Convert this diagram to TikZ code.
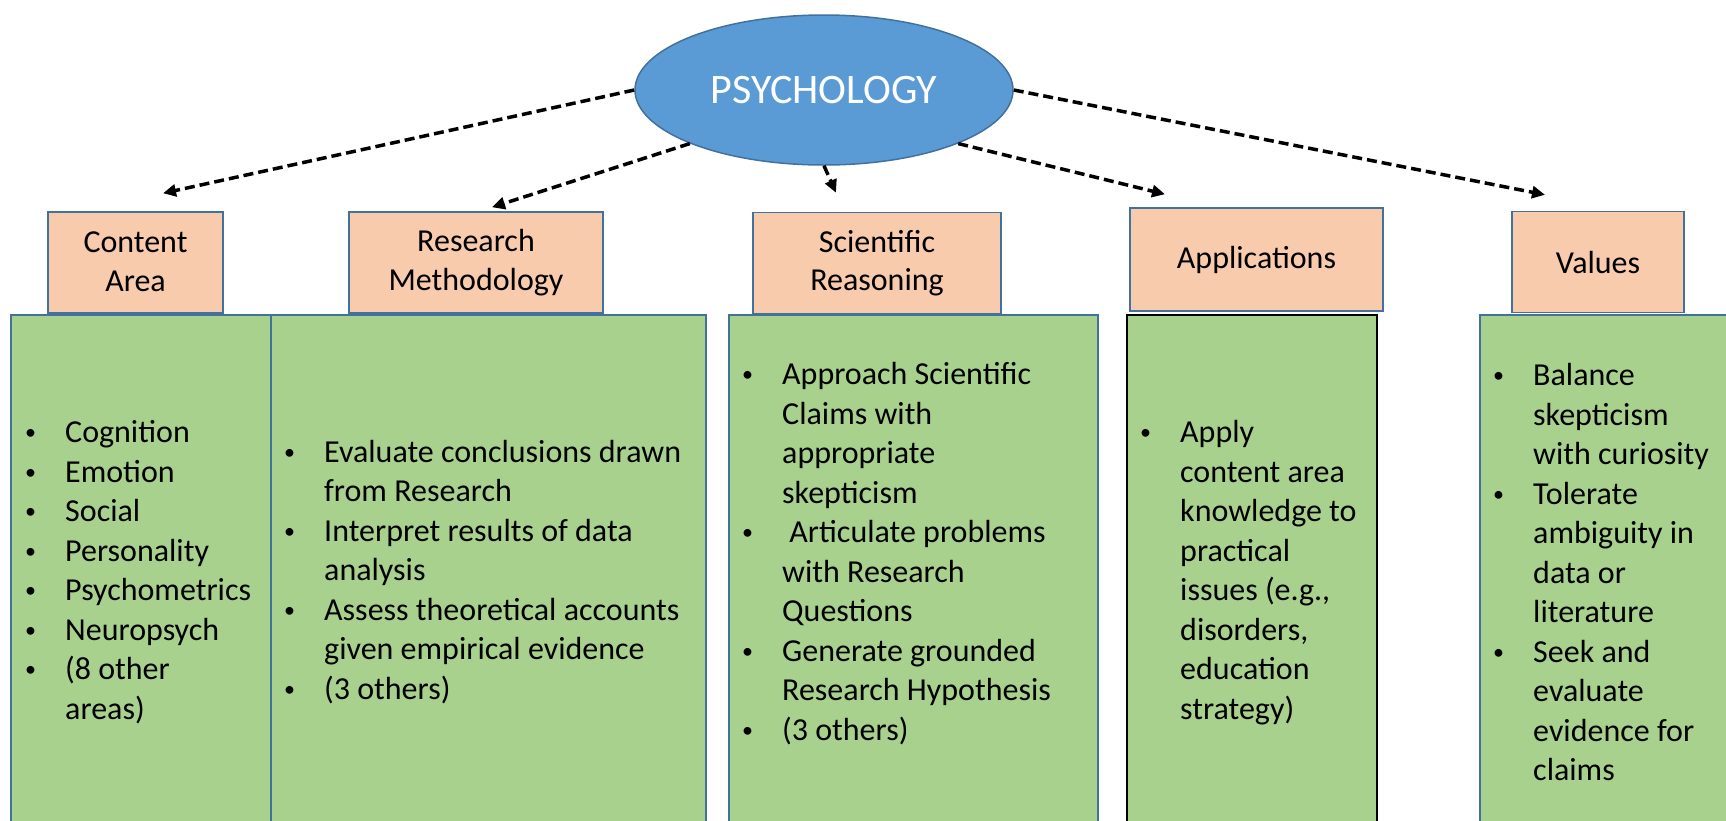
\documentclass[tikz,border=0pt]{standalone}
\usepackage{fontspec}
\setmainfont{Carlito}
\usetikzlibrary{shapes.geometric,arrows.meta,calc}

\definecolor{psyblue}{HTML}{5B9BD5}
\definecolor{psyedge}{HTML}{41719C}
\definecolor{headfill}{HTML}{F8CBAD}
\definecolor{bodyfill}{HTML}{A9D18E}

\newcommand{\bitem}{\makebox[40pt][l]{\raisebox{3pt}{\fontsize{22}{22}\selectfont\textbullet}}}
\newcommand{\bcont}{\hspace*{40pt}}

\begin{document}
\begin{tikzpicture}[x=1pt,y=-1pt,
  head/.style={draw=psyedge,line width=1.5pt,fill=headfill,align=center,inner sep=0pt,
    minimum height=101pt,font=\fontsize{32}{38.5}\selectfont},
  body/.style={draw=psyedge,line width=1.5pt,fill=bodyfill,inner sep=0pt,minimum height=530pt},
  items/.style={anchor=west,align=left,inner sep=0pt,font=\fontsize{32}{39.5}\selectfont},
  link/.style={line width=3.5pt,dash pattern=on 10pt off 5pt,-{Triangle[length=13pt,width=12pt]}}]
\useasboundingbox (0,0) rectangle (1726,820);
\clip (0,0) rectangle (1726,820);

% top ellipse
\node[ellipse,draw=psyedge,line width=1.5pt,fill=psyblue,minimum width=378pt,minimum height=150pt,
  inner sep=0pt,text=white,font=\fontsize{42}{50}\selectfont] (psych) at (824,90) {PSYCHOLOGY};

% headers
\node[head,minimum width=175pt,text depth=2pt] (content) at (135.5,262.5) {Content\\Area};
\node[head,minimum width=254pt] (research) at (476,262.5) {Research\\Methodology};
\node[head,minimum width=248pt] (science) at (877,263) {Scientific\\Reasoning};
\node[head,minimum width=253pt,minimum height=103pt] (applic) at (1256.5,259.5) {Applications};
\node[head,minimum width=172pt] (values) at (1598,262) {Values};

% green columns
\node[body,minimum width=260pt] (contentbody) at (141,580) {};
\node[body,minimum width=435pt] (researchbody) at (488.5,580) {};
\node[body,minimum width=369pt] (sciencebody) at (913.5,580) {};
\node[body,draw=black,minimum width=250pt] (applicbody) at (1252,580) {};
\node[body,minimum width=280pt] (valuesbody) at (1620,580) {};

% column texts
\node[items] (contentlist) at (25,572) {\bitem Cognition\\\bitem Emotion\\\bitem Social\\
  \bitem Personality\\\bitem Psychometrics\\\bitem Neuropsych\\\bitem (8 other\\\bcont areas)};
\node[items] (researchlist) at (284,572) {\bitem Evaluate conclusions drawn\\\bcont from Research\\
  \bitem Interpret results of data\\\bcont analysis\\\bitem Assess theoretical accounts\\
  \bcont given empirical evidence\\\bitem (3 others)};
\node[items] (sciencelist) at (742,553.5) {\bitem Approach Scientific\\\bcont Claims with\\
  \bcont appropriate\\\bcont skepticism\\\bitem\ Articulate problems\\\bcont with Research\\
  \bcont Questions\\\bitem Generate grounded\\\bcont Research Hypothesis\\\bitem (3 others)};
\node[items] (appliclist) at (1140,572.5) {\bitem Apply\\\bcont content area\\\bcont knowledge to\\
  \bcont practical\\\bcont issues (e.g.,\\\bcont disorders,\\\bcont education\\\bcont strategy)};
\node[items] (valueslist) at (1493,572) {\bitem Balance\\\bcont skepticism\\\bcont with curiosity\\
  \bitem Tolerate\\\bcont ambiguity in\\\bcont data or\\\bcont literature\\\bitem Seek and\\
  \bcont evaluate\\\bcont evidence for\\\bcont claims};

% arrow ends
\coordinate (contenttip) at ($(content.north)+(27.5,-18)$);
\coordinate (researchtip) at ($(research.north)+(16,-4)$);
\coordinate (sciencetip) at ($(science.north)+(-41,-19)$);
\coordinate (applictip) at ($(applic.north)+(-91.5,-13)$);
\coordinate (valuestip) at ($(values.north)+(-53,-16)$);

\draw[link] (psych.west) -- (contenttip);
\draw[link] (psych.south west) -- (researchtip);
\draw[link] (psych.south) -- (sciencetip);
\draw[link] (psych.south east) -- (applictip);
\draw[link] (psych.east) -- (valuestip);
\end{tikzpicture}
\end{document}
